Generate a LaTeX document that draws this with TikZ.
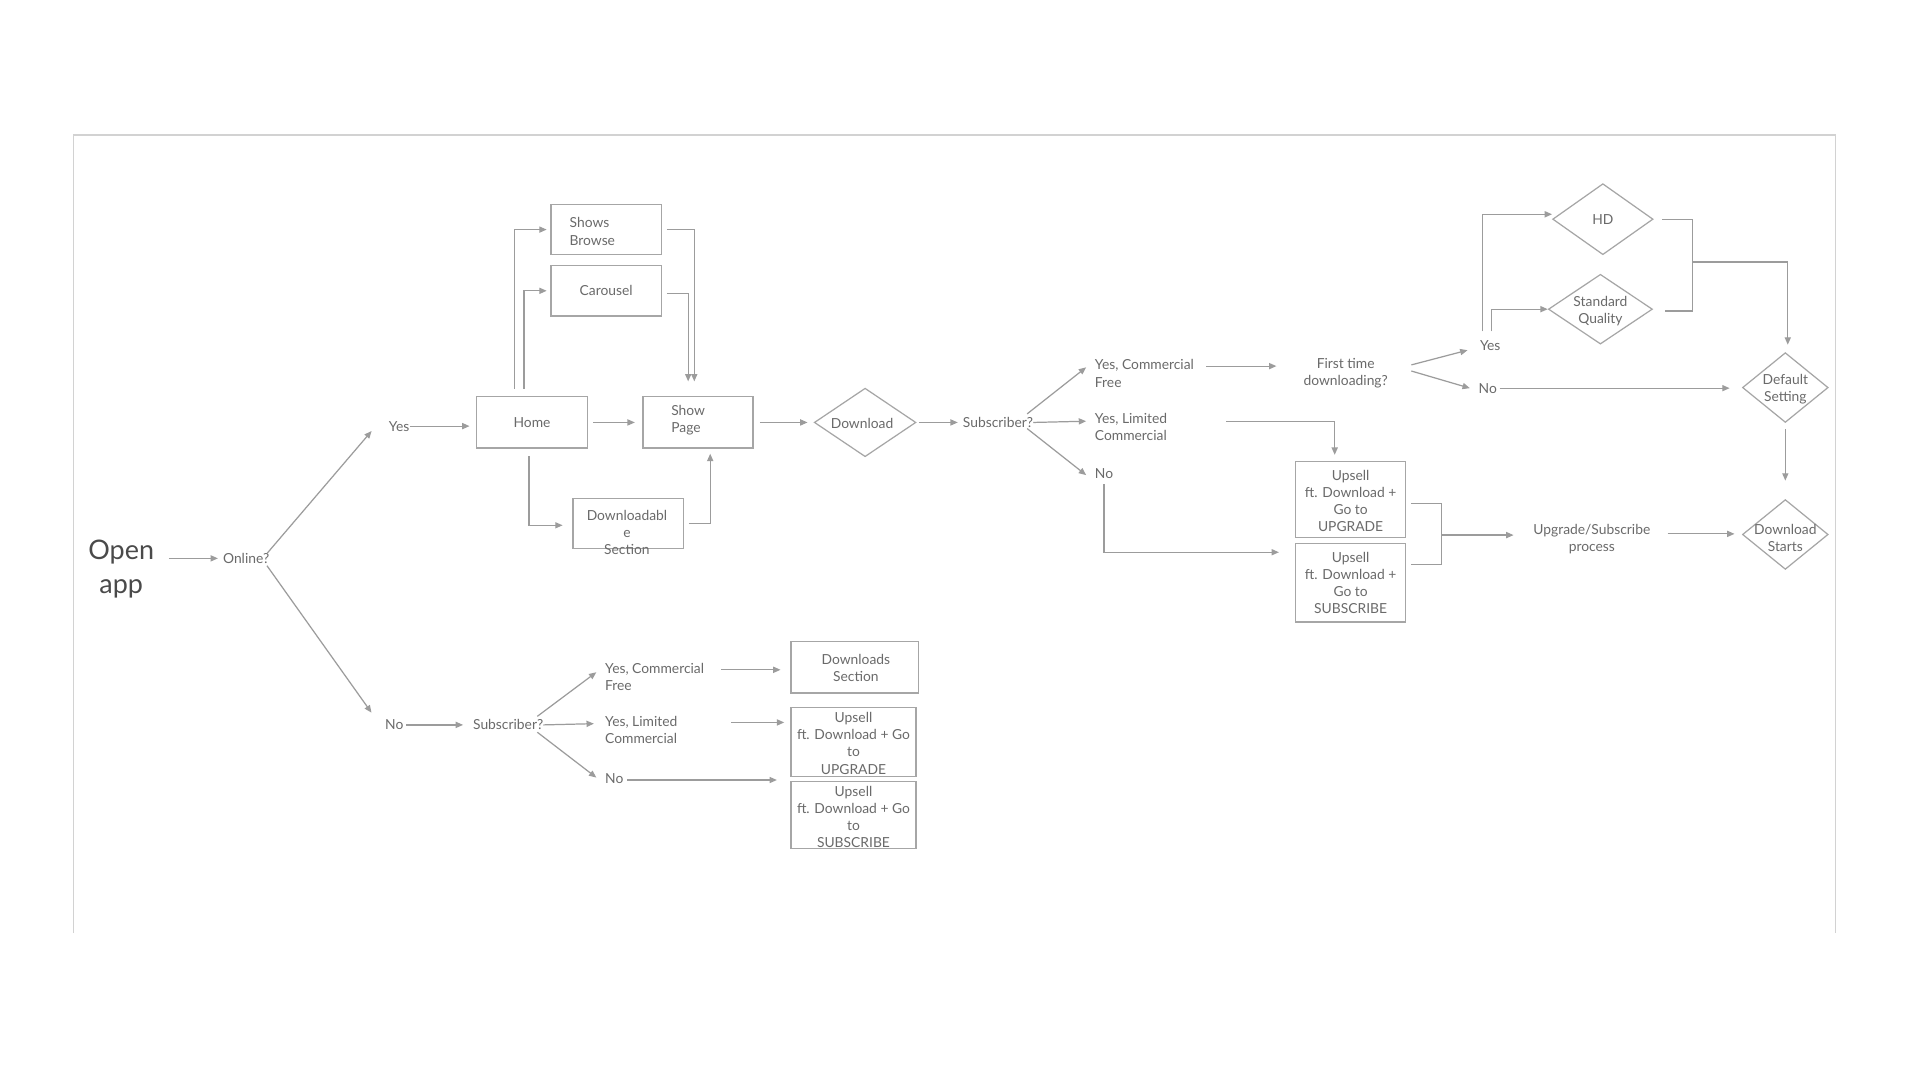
\documentclass[tikz,border=0pt]{standalone}
\usepackage{fontspec}
\setmainfont{Lato}
\usetikzlibrary{shapes.geometric,arrows.meta,calc}
\definecolor{linec}{HTML}{9C9C9C}
\definecolor{boxc}{HTML}{A6A6A6}
\definecolor{txtc}{HTML}{6A6A6A}
\definecolor{openc}{HTML}{4A4A4A}
\definecolor{framec}{HTML}{D2D2D2}
\begin{document}
\begin{tikzpicture}[x=1pt,y=-1pt,
  every node/.style={inner sep=0pt, text=txtc, font=\fontsize{11.3}{14}\selectfont},
  box/.style={draw=boxc, line width=1.1pt, rectangle},
  dia/.style={draw=boxc, line width=1pt, diamond},
  txt/.style={align=center},
  ltxt/.style={align=left, anchor=west},
  conn/.style={draw=linec, line width=1pt},
  arr/.style={conn, -{Triangle[length=6pt,width=5pt]}}
]
\useasboundingbox[fill=white] (0,0) rectangle (1568,882);
\draw[framec, line width=1.5pt] (60,762) -- (60,110) -- (1499,110) -- (1499,762);

% ---- left part
\node[font=\fontsize{22}{28}\selectfont, text=openc, align=center] (open) at (99,465) {Open\\app};
\node (online) at (201,456) {Online?};
\node (yes) at (326,348) {Yes};
\node (no) at (322,592) {No};
\node[box,minimum width=91,minimum height=42] (home) at (434.5,345) {Home};
\node[box,minimum width=90,minimum height=42] (show) at (570,345) {};
\node[ltxt] (showt) at (548,343) {Show\\Page};
\node[box,minimum width=90,minimum height=41] (browse) at (495,187.5) {};
\node[ltxt] (browset) at (465,189) {Shows\\Browse};
\node[box,minimum width=90,minimum height=41] (carousel) at (495,237.5) {Carousel};
\node[box,minimum width=90,minimum height=41] (dl) at (513,427.5) {};
\node[txt] (dlt) at (512,435) {Downloadabl\\e\\Section};
\node[dia,minimum width=83,minimum height=56] (download) at (706.5,345) {};
\node (downloadt) at (704,346) {Download};

% ---- online branch
\node (sub1) at (815,345) {Subscriber?};
\node[ltxt] (ycf) at (894,305) {Yes, Commercial\\Free};
\node[ltxt] (ylc) at (894,349) {Yes, Limited\\Commercial};
\node[ltxt] (no1) at (894,387) {No};
\node[txt] (first) at (1099,305) {First time\\downloading?};
\node (yes2) at (1217,282) {Yes};
\node (no2) at (1215,317) {No};
\node[dia,minimum width=82,minimum height=58] (hd) at (1309,179) {};
\node (hdt) at (1309,179) {HD};
\node[dia,minimum width=85,minimum height=57] (sq) at (1307,252.5) {};
\node[txt] (sqt) at (1307,254) {Standard\\Quality};
\node[dia,minimum width=70,minimum height=57] (def) at (1458,316.5) {};
\node[txt] (deft) at (1458,318) {Default\\Setting};
\node[dia,minimum width=70,minimum height=57] (start) at (1458,436.5) {};
\node[txt] (startt) at (1458,439) {Download\\Starts};
\node[txt] (up) at (1300,440) {Upgrade/Subscribe\\process};
\node[box,minimum width=90,minimum height=62] (u1) at (1103,408) {};
\node[txt] (u1t) at (1103,409) {Upsell\\ft. Download +\\Go to\\UPGRADE};
\node[box,minimum width=90,minimum height=64] (u2) at (1103,476) {};
\node[txt] (u2t) at (1103,476) {Upsell\\ft. Download +\\Go to\\SUBSCRIBE};

% ---- offline branch
\node (subb) at (415,592) {Subscriber?};
\node[ltxt] (ycfb) at (494,553) {Yes, Commercial\\Free};
\node[ltxt] (ylcb) at (494,596) {Yes, Limited\\Commercial};
\node[ltxt] (nob2) at (494,636) {No};
\node[box,minimum width=104,minimum height=42] (dsec) at (698,545) {};
\node[txt] (dsect) at (699,545.5) {Downloads\\Section};
\node[box,minimum width=102,minimum height=56] (u3) at (697,606) {};
\node[txt] (u3t) at (697,607) {Upsell\\ft. Download + Go\\to\\UPGRADE};
\node[box,minimum width=102,minimum height=55] (u4) at (697,665.5) {};
\node[txt] (u4t) at (697,667) {Upsell\\ft. Download + Go\\to\\SUBSCRIBE};

% ---- connectors
\draw[arr] ($(open.east|-online.west)+(12,0)$) -- ($(online.west)+(-4,0)$);
\draw[arr] ($(online.east)+(-2,-4)$) -- ($(yes.west)+(-14,4)$);
\draw[arr] ($(online.east)+(-2,6)$) -- ($(no.west)+(-11,-10)$);
\draw[arr] (yes.east) -- ($(home.west|-yes.east)+(-5,0)$);
\draw[arr] ($(no.east)+(2,0)$) -- ($(subb.west)+(-8,0)$);
\draw[arr] ($(home.east)+(4,0)$) -- ($(show.west)+(-6,0)$);
\draw[arr] ($(home.north)+(-14.5,-6)$) |- ($(browse.west)+(-3,0)$);
\draw[arr] ($(home.north)+(-6.5,-6)$) |- ($(carousel.west)+(-3,0)$);
\draw[arr] ($(browse.east)+(4,0)$) -| ($(show.north)+(-3,-12)$);
\draw[arr] ($(carousel.east)+(4,2)$) -| ($(show.north)+(-8,-12)$);
\draw[arr] ($(home.south)+(-2.5,6)$) |- ($(dl.west)+(-8,1.5)$);
\draw[arr] ($(dl.east)+(4,0)$) -| ($(show.south)+(10,4)$);
\draw[arr] ($(show.east)+(5,0)$) -- ($(download.west)+(-5,0)$);
\draw[arr] ($(download.east)+(2,0)$) -- ($(sub1.west)+(-4,0)$);
\draw[arr] ($(sub1.east)+(-5,-7)$) -- ($(ycf.west)+(-7,-5)$);
\draw[arr] (sub1.east) -- ($(ylc.west)+(-7,-5)$);
\draw[arr] ($(sub1.east)+(-5,5)$) -- ($(no1.west)+(-7,1)$);
\draw[arr] ($(ycf.east)+(10,-6)$) -- ($(first.west)+(-22,-6)$);
\draw[arr] ($(first.east)+(19,-7)$) -- ($(yes2.west)+(-10,4)$);
\draw[arr] ($(first.east)+(19,-2)$) -- ($(no2.west)+(-7,0)$);
\draw[arr] ($(yes2.north)+(-6,-7)$) |- ($(hd.west)+(0,-4)$);
\draw[arr] ($(yes2.north)+(1,-7)$) |- (sq.west);
\coordinate (j1) at (1382,214);
\draw[conn] ($(hd.east)+(7,0)$) -| (j1) |- ($(sq.east)+(10,1.5)$);
\draw[arr] (j1) -| ($(def.north)+(2,-6)$);
\draw[arr] ($(no2.east)+(2,0)$) -- ($(def.west)+(-10,0.5)$);
\draw[arr] ($(def.south)+(0,5)$) -- ($(start.north)+(0,-15)$);
\draw[arr] ($(up.east)+(14,-4)$) -- ($(start.west)+(-6,-0.5)$);
\draw[arr] ($(ylc.east)+(48,-5)$) -| ($(u1.north)+(-13,-5)$);
\draw[arr] ($(no1.south)+(0,4)$) |- ($(u2.west)+(-13,-25)$);
\coordinate (j2) at (1177,437);
\draw[conn] ($(u1.east)+(4,3)$) -| (j2) |- ($(u2.east)+(4,-15)$);
\draw[arr] (j2) -- ($(up.west)+(-16,-3)$);

\draw[arr] ($(subb.east)+(-5,-7)$) -- ($(ycfb.west)+(-7,-4)$);
\draw[arr] (subb.east) -- ($(ylcb.west)+(-9,-5)$);
\draw[arr] ($(subb.east)+(-5,6)$) -- ($(nob2.west)+(-7,-1)$);
\draw[arr] ($(ycfb.east)+(14,-6)$) -- ($(dsec.west)+(-8,2)$);
\draw[arr] ($(ylcb.east)+(44,-6)$) -- ($(u3.west)+(-5,-16)$);
\draw[arr] ($(nob2.east)+(3,1)$) -- ($(u4.west)+(-11,-28.5)$);
\end{tikzpicture}
\end{document}
